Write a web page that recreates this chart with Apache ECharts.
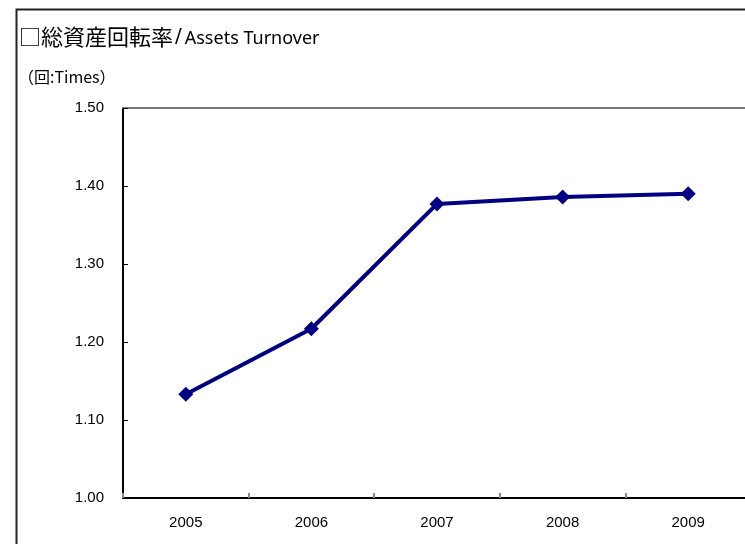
<!DOCTYPE html>
<html>
<head>
<meta charset="utf-8">
<script src="https://cdn.jsdelivr.net/npm/echarts@6/dist/echarts.min.js"></script>
<style>
  html, body { margin: 0; padding: 0; background: #fff; }
  #chart { width: 745px; height: 544px; }
</style>
</head>
<body>
<div id="chart"></div>
<script>
const years = ["2005", "2006", "2007", "2008", "2009"];
const turnover = [1.133, 1.217, 1.377, 1.386, 1.390];
const yMin = 1.0;
const yMax = 1.5;
const yStep = 0.1;

const chart = echarts.init(document.getElementById("chart"), null, { renderer: "canvas" });

const labelFont = "'Liberation Sans', Arial, sans-serif";

chart.setOption({
  animation: false,
  backgroundColor: "#fff",
  graphic: [
    {
      type: "rect",
      shape: { x: 16.5, y: 9.5, width: 760, height: 560 },
      style: { fill: "none", stroke: "#222", lineWidth: 2 }
    },
    {
      type: "text",
      left: 19,
      top: 26,
      style: {
        rich: {
          jp: { fontFamily: "'Noto Sans CJK JP', sans-serif", fontSize: 22, fill: "#000" },
          sl: { fontFamily: "'DejaVu Sans', sans-serif", fontSize: 20, fill: "#000", padding: [0, 3, 0, 2] },
          en: { fontFamily: "'Noto Sans', sans-serif", fontSize: 18, fill: "#000", padding: [4, 0, 0, 0] }
        },
        text: "{jp|□総資産回転率}{sl|/}{en|Assets Turnover}"
      }
    },
    {
      type: "text",
      left: 18,
      top: 69,
      style: {
        text: "（回:Times）",
        fontFamily: "'Noto Sans CJK JP', sans-serif",
        fontSize: 16,
        fill: "#000"
      }
    }
  ],
  grid: { left: 123, top: 108, width: 628, height: 390, containLabel: false, outerBoundsMode: "none" },
  xAxis: [
    {
      type: "category",
      data: years,
      boundaryGap: true,
      axisLine: { lineStyle: { color: "#000", width: 2 } },
      axisTick: { show: true, inside: true, length: 5, lineStyle: { color: "#888", width: 2 } },
      axisLabel: { color: "#000", fontSize: 15, fontFamily: labelFont, margin: 17 },
      splitLine: { show: false }
    },
    {
      type: "category",
      data: years,
      position: "top",
      axisLine: { lineStyle: { color: "#777", width: 2 } },
      axisTick: { show: false },
      axisLabel: { show: false }
    }
  ],
  yAxis: {
    type: "value",
    min: yMin,
    max: yMax,
    interval: yStep,
    axisLine: { show: true, lineStyle: { color: "#000", width: 2 } },
    axisTick: { show: true, inside: true, length: 5, lineStyle: { color: "#000", width: 1 } },
    axisLabel: {
      color: "#000",
      fontSize: 15,
      fontFamily: labelFont,
      margin: 19,
      formatter: (v) => v.toFixed(2)
    },
    splitLine: { show: false }
  },
  series: [
    {
      type: "line",
      data: turnover,
      symbol: "diamond",
      symbolSize: 15,
      lineStyle: { color: "#000080", width: 4 },
      itemStyle: { color: "#000080" }
    }
  ]
});
</script>
</body>
</html>
